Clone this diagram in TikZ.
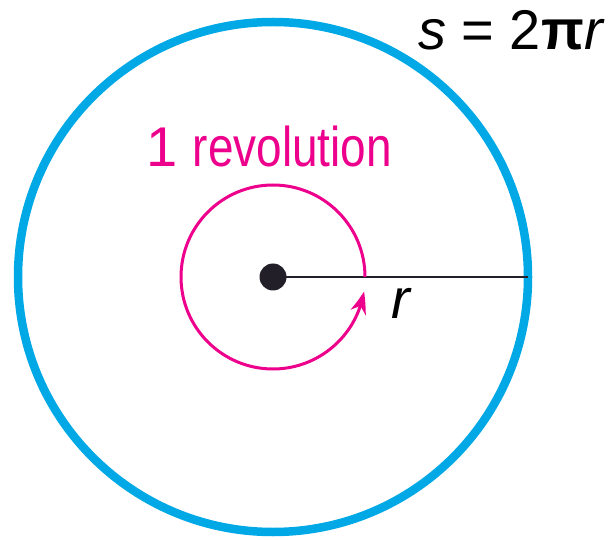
\documentclass[tikz,border=0pt]{standalone}
\usepackage{fontspec}
\setmainfont{Liberation Sans}
\usetikzlibrary{arrows.meta,bending}
\definecolor{rimblue}{RGB}{0,169,230}
\definecolor{revpink}{RGB}{236,0,140}
\definecolor{radline}{RGB}{35,31,40}
\tikzset{
  bigtext/.style={inner sep=0pt, font=\fontsize{56}{60}\selectfont},
}
\begin{document}
\begin{tikzpicture}[x=1pt,y=1pt]
\useasboundingbox (0,0) rectangle (608,539);
\coordinate (c) at (273,262);
\coordinate (rim) at (528,262);
\draw[rimblue, line width=8.5pt] (c) circle[radius=255pt];
\node[circle, fill=radline, inner sep=0pt, minimum size=27pt] (dot) at (c) {};
\draw[radline, line width=2.5pt] (dot.center) -- (rim);
\draw[revpink, line width=3pt, -{Stealth[length=22pt,width=16pt,inset=7pt,bend]}]
  ([shift={(0:92pt)}]c) arc[start angle=0, end angle=351, radius=92pt];
\node[bigtext, revpink, anchor=base west] (rev) at (146,372) {1 \scalebox{0.82}[1]{revolution}};
\node[bigtext, anchor=base west] (form) at (418,489) {\textit{s} = 2\textbf{π}\textit{r}};
\node[bigtext, anchor=base west] (rlab) at (391,221) {\textit{r}};
\end{tikzpicture}
\end{document}
